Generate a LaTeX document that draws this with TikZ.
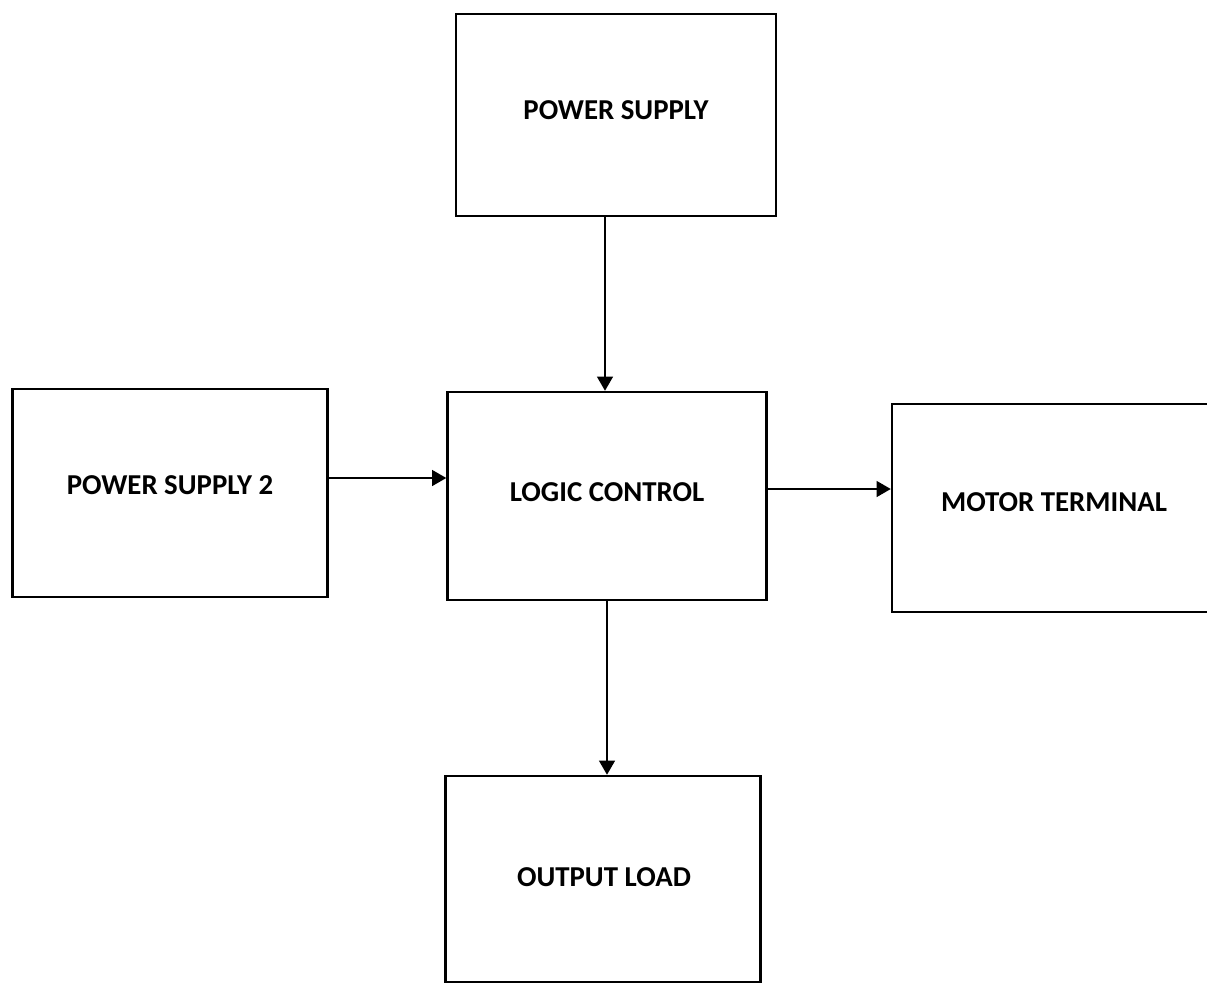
\documentclass[tikz,border=0pt]{standalone}
\usepackage{fontspec}
\setmainfont{Carlito}
\usetikzlibrary{arrows}

\begin{document}
\begin{tikzpicture}
  [x=0.025cm,y=-0.025cm,every node/.style={draw,line width=1.8pt,font=\fontsize{20.5}{22}\selectfont\bfseries}]

	\tikzset{
	link/.style = {line width=1.8pt,-triangle 60}
	}

  \useasboundingbox (0,0) rectangle (1207,985);

  \node[minimum width=320*0.025cm,minimum height=202*0.025cm] (ps) at (616,115) {};
  \node[draw=none] (pst) at (616,110) {POWER SUPPLY};
  \node[minimum width=315*0.025cm,minimum height=208*0.025cm] (ps2) at (170,493) {};
  \node[draw=none] (ps2t) at (170,485) {POWER SUPPLY 2};
  \node[minimum width=319*0.025cm,minimum height=208*0.025cm] (lc) at (607,496) {};
  \node[draw=none] (lct) at (607,492) {LOGIC CONTROL};
  \node[minimum width=340*0.025cm,minimum height=208*0.025cm] (mt) at (1062,508) {};
  \node[draw=none] (mtt) at (1054,502) {MOTOR TERMINAL};
  \node[minimum width=315*0.025cm,minimum height=206*0.025cm] (ol) at (603,879) {};
  \node[draw=none] (olt) at (604,877) {OUTPUT LOAD};

  \draw[link] (ps.south -| 605,0) -- (lc.north -| 605,0);
  \draw[link] (ps2.east |- 0,478) -- (lc.west |- 0,478);
  \draw[link] (lc.east |- 0,489) -- (mt.west |- 0,489);
  \draw[link] (lc.south -| 607,0) -- (ol.north -| 607,0);

\end{tikzpicture}
\end{document}
